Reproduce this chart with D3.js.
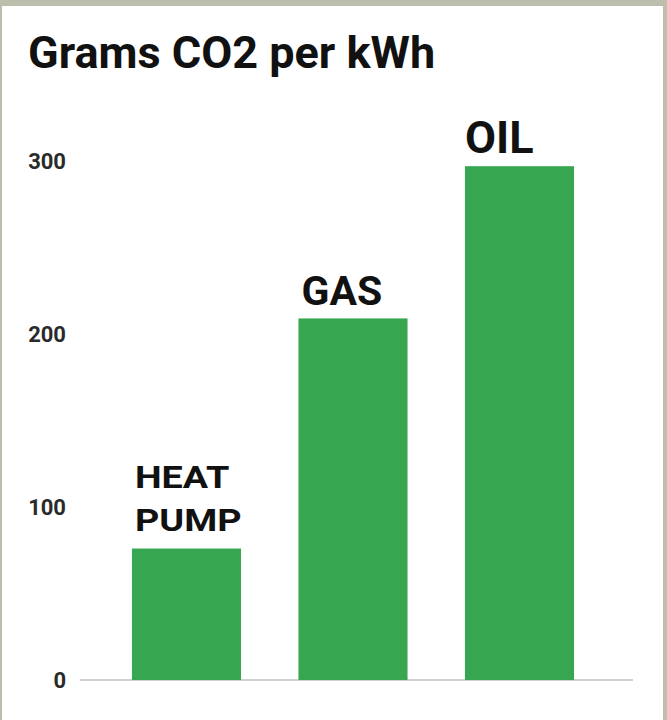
<!DOCTYPE html>
<html><head><meta charset="utf-8">
<script src="https://cdn.jsdelivr.net/npm/d3@7"></script>
<style>
html,body{margin:0;padding:0;background:#bcbfab;}
svg{display:block;}
</style></head>
<body>
<svg id="chart" width="667" height="720"></svg>
<script>
const categories = ["HEAT PUMP", "GAS", "OIL"];
const labelLines = [["HEAT", "PUMP"], ["GAS"], ["OIL"]];
const values = [76, 209, 297];
const yTicks = [0, 100, 200, 300];

const W = 667, H = 720;
const svg = d3.select("#chart");
svg.append("rect").attr("x", 0).attr("y", 0).attr("width", W).attr("height", H).attr("fill", "#bcbfab");
svg.append("rect").attr("x", 2).attr("y", 6).attr("width", 661).attr("height", H - 6).attr("fill", "#ffffff");

svg.append("text").attr("x", 28).attr("y", 68)
  .attr("font-family", "Roboto").attr("font-weight", 700).attr("font-size", 45)
  .attr("fill", "#111").text("Grams CO2 per kWh");

const x = d3.scaleBand().domain(categories).range([80, 626]).paddingInner(0.345).paddingOuter(0.312);
const y = d3.scaleLinear().domain([0, 300]).range([680, 161]);

// baseline
svg.append("line").attr("x1", 80).attr("x2", 633).attr("y1", y(0)).attr("y2", y(0))
  .attr("stroke", "#d0d0d0").attr("stroke-width", 2);

// y tick labels
svg.selectAll("text.ytick").data(yTicks).join("text").attr("class", "ytick")
  .attr("x", 66).attr("y", d => y(d)).attr("dy", "0.35em").attr("text-anchor", "end")
  .attr("font-family", "Roboto").attr("font-weight", 700).attr("font-size", 22)
  .attr("fill", "#2a2a2a").text(d => d);

svg.selectAll("rect.bar").data(values).join("rect").attr("class", "bar")
  .attr("x", (d, i) => x(categories[i])).attr("width", x.bandwidth())
  .attr("y", d => y(d)).attr("height", d => y(0) - y(d))
  .attr("fill", "#37a651");

const sizes = [32, 41, 45];
const stretch = [1.18, 1, 1];
const dx = [3, 3, 0];
categories.forEach((c, i) => {
  const lines = labelLines[i];
  const fs = sizes[i];
  const lh = lines.length > 1 ? 43 : 0;
  const base = y(values[i]) - (i === 0 ? 18 : 13);
  lines.forEach((ln, j) => {
    const ty = base - (lines.length - 1 - j) * lh;
    svg.append("text")
      .attr("transform", `translate(${x(c) + dx[i]},${ty}) scale(${stretch[i]},1)`)
      .attr("font-family", "Roboto").attr("font-weight", 700).attr("font-size", fs)
      .attr("fill", "#111").text(ln);
  });
});
</script>
</body></html>
